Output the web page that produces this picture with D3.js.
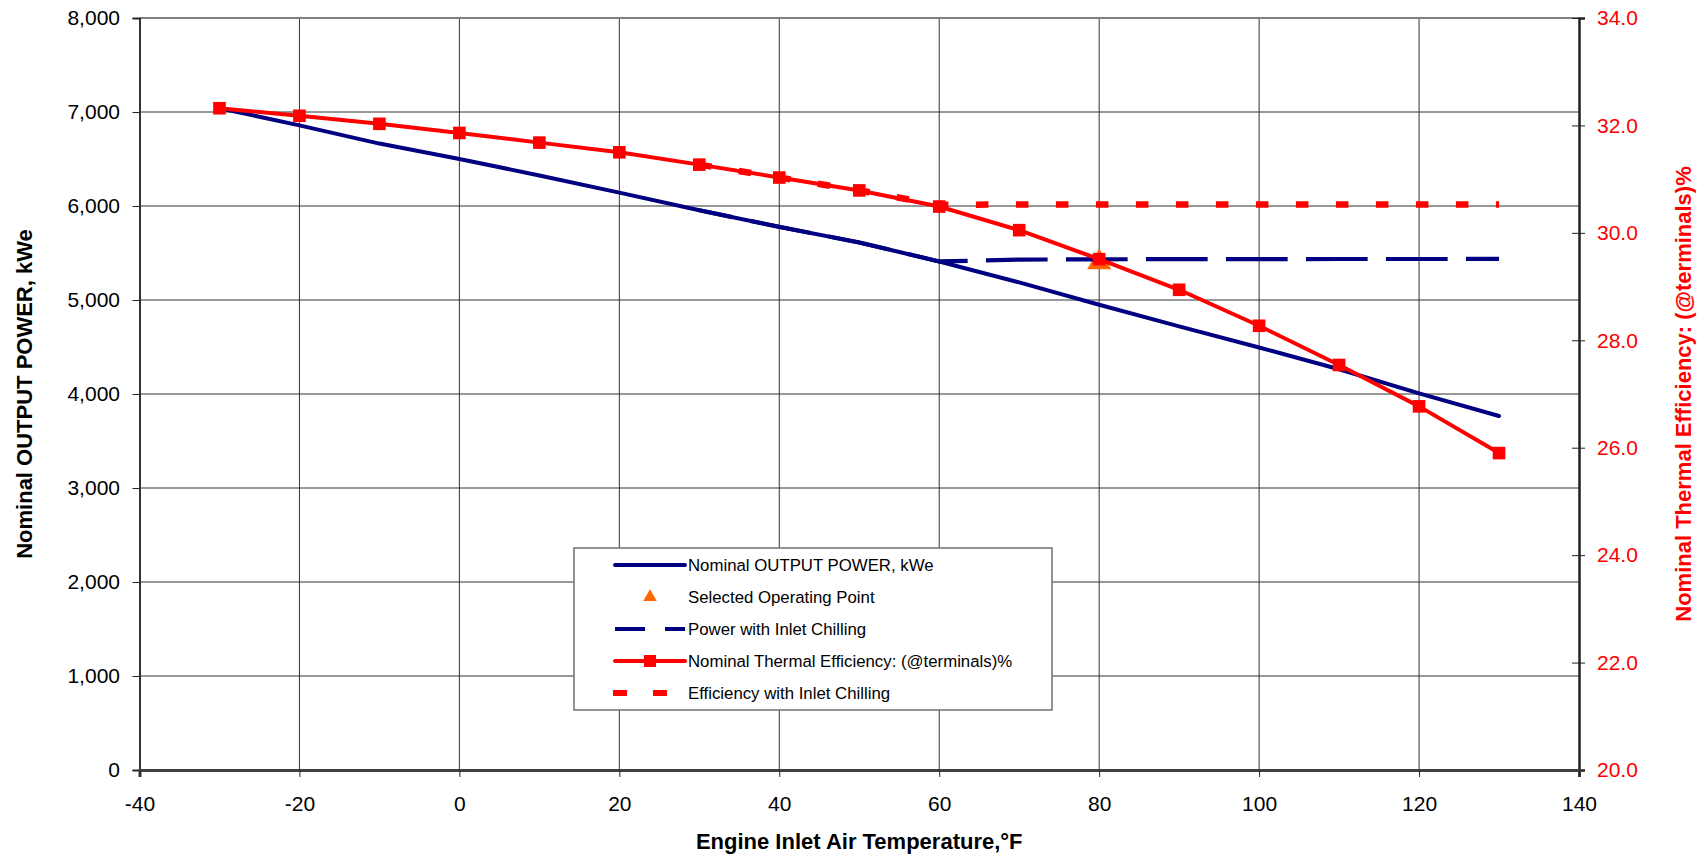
<!DOCTYPE html>
<html>
<head>
<meta charset="utf-8">
<script src="https://cdn.jsdelivr.net/npm/d3@7/dist/d3.min.js"></script>
<style>
  html, body { margin: 0; padding: 0; background: #fff; }
  svg { display: block; font-family: "Liberation Sans", Arial, Helvetica, sans-serif; }
</style>
</head>
<body>
<svg id="chart" width="1705" height="857"></svg>
<script>
// ---- data ----
const temps = [-30, -20, -10, 0, 10, 20, 30, 40, 50, 60, 70, 80, 90, 100, 110, 120, 130];
const powerKwe = [7040, 6858, 6664, 6500, 6325, 6142, 5955, 5778, 5612, 5410, 5187, 4950, 4719, 4495, 4263, 4007, 3766];
const efficiencyPct = [32.32, 32.18, 32.03, 31.86, 31.68, 31.50, 31.27, 31.03, 30.79, 30.49, 30.05, 29.51, 28.94, 28.27, 27.54, 26.77, 25.90];
const chillTemps = [30, 40, 50, 60, 70, 80, 90, 100, 110, 120, 130];
const powerChill = [5955, 5778, 5612, 5410, 5430, 5433, 5435, 5435, 5436, 5436, 5437];
const effChill = [31.27, 31.03, 30.79, 30.52, 30.53, 30.53, 30.53, 30.53, 30.53, 30.53, 30.53];
const selectedTemp = [80];
const selectedPower = [5400];
const xTickValues = [-40, -20, 0, 20, 40, 60, 80, 100, 120, 140];
const yLeftTicks = [0, 1000, 2000, 3000, 4000, 5000, 6000, 7000, 8000];
const yRightTicks = [20, 22, 24, 26, 28, 30, 32, 34];
const legendLabels = [
  "Nominal OUTPUT POWER, kWe",
  "Selected Operating Point",
  "Power with Inlet Chilling",
  "Nominal Thermal Efficiency: (@terminals)%",
  "Efficiency with Inlet Chilling"
];
const xTitle = "Engine Inlet Air Temperature,\u00B0F";
const yLeftTitle = "Nominal OUTPUT POWER, kWe";
const yRightTitle = "Nominal Thermal Efficiency: (@terminals)%";

// ---- layout ----
const P = { left: 139.5, right: 1579, top: 18, bottom: 770 };
const NAVY = "#000080", RED = "#FF0000", ORANGE = "#FF6600";

const svg = d3.select("#chart");
const x = d3.scaleLinear().domain([-40, 140]).range([P.left, P.right]);
const yL = d3.scaleLinear().domain([0, 8000]).range([P.bottom, P.top]);
const yR = d3.scaleLinear().domain([20, 34]).range([P.bottom, P.top]);

// gridlines
const grid = svg.append("g");
grid.selectAll("line.v").data(xTickValues.filter(d => d > -40 && d < 140)).join("line")
  .attr("x1", d => x(d)).attr("x2", d => x(d)).attr("y1", P.top).attr("y2", P.bottom)
  .attr("stroke", "#333").attr("stroke-width", 1);
grid.selectAll("line.h").data(yLeftTicks.filter(d => d > 0 && d < 8000)).join("line")
  .attr("x1", P.left).attr("x2", P.right).attr("y1", d => yL(d)).attr("y2", d => yL(d))
  .attr("stroke", "#333").attr("stroke-width", 1);
// top frame line
svg.append("line").attr("x1", P.left).attr("x2", P.right).attr("y1", P.top).attr("y2", P.top)
  .attr("stroke", "#808080").attr("stroke-width", 2);

// axes
const fmtComma = d3.format(",");
const axL = svg.append("g").attr("transform", `translate(${P.left},0)`)
  .call(d3.axisLeft(yL).tickValues(yLeftTicks).tickFormat(fmtComma).tickSizeOuter(0).tickSize(7).tickPadding(12.5));
const axR = svg.append("g").attr("transform", `translate(${P.right},0)`)
  .call(d3.axisRight(yR).tickValues(yRightTicks).tickFormat(d => d.toFixed(1)).tickSizeOuter(0).tickSize(6).tickPadding(12));
const axB = svg.append("g").attr("transform", `translate(0,${P.bottom})`)
  .call(d3.axisBottom(x).tickValues(xTickValues).tickFormat(d => String(d)).tickSizeOuter(0).tickSize(7).tickPadding(19));

axL.select(".domain").attr("stroke", "#333").attr("stroke-width", 2);
axR.select(".domain").attr("stroke", "#222").attr("stroke-width", 2.5);
axB.select(".domain").attr("stroke", "#404040").attr("stroke-width", 3);
axR.selectAll(".tick line").attr("x1", -7).attr("x2", 6).attr("stroke", "#222");
axL.selectAll(".tick line").attr("stroke", "#222");
axB.selectAll(".tick line").attr("stroke", "#222");
[axL, axR, axB].forEach(a => a.selectAll(".tick text").attr("font-size", 21).attr("font-family", "Liberation Sans, Arial, sans-serif"));
axL.selectAll(".tick text").attr("fill", "#000");
axB.selectAll(".tick text").attr("fill", "#000");
axR.selectAll(".tick text").attr("fill", RED);

// series
const linePower = d3.line().x((d, i) => x(temps[i])).y(d => yL(d));
const linePowerChill = d3.line().x((d, i) => x(chillTemps[i])).y(d => yL(d));
const lineEff = d3.line().x((d, i) => x(temps[i])).y(d => yR(d));
const lineEffChill = d3.line().x((d, i) => x(chillTemps[i])).y(d => yR(d));

svg.append("path").datum(powerKwe).attr("d", linePower)
  .attr("fill", "none").attr("stroke", NAVY).attr("stroke-width", 4)
  .attr("stroke-linejoin", "round").attr("stroke-linecap", "round");

svg.selectAll("path.sel").data(selectedPower).join("path")
  .attr("d", d3.symbol(d3.symbolTriangle).size(250))
  .attr("transform", (d, i) => `translate(${x(selectedTemp[i])},${yL(d)})`)
  .attr("fill", ORANGE);

svg.append("path").datum(powerChill).attr("d", linePowerChill)
  .attr("fill", "none").attr("stroke", NAVY).attr("stroke-width", 4.2)
  .attr("stroke-dasharray", "61.7,18.3").attr("stroke-dashoffset", 27.9);

svg.append("path").datum(efficiencyPct).attr("d", lineEff)
  .attr("fill", "none").attr("stroke", RED).attr("stroke-width", 4)
  .attr("stroke-linejoin", "round").attr("stroke-linecap", "round");
svg.selectAll("rect.sq").data(efficiencyPct).join("rect")
  .attr("x", (d, i) => x(temps[i]) - 6.3).attr("y", d => yR(d) - 6.3)
  .attr("width", 12.6).attr("height", 12.6).attr("fill", RED);

svg.append("path").datum(effChill).attr("d", lineEffChill)
  .attr("fill", "none").attr("stroke", RED).attr("stroke-width", 6.5)
  .attr("stroke-dasharray", "12.5,27.5");

// axis titles
svg.append("text").attr("x", (P.left + P.right) / 2).attr("y", 849)
  .attr("text-anchor", "middle").attr("font-size", 22).attr("font-weight", "bold")
  .text(xTitle);
svg.append("text").attr("transform", `translate(32,${(P.top + P.bottom) / 2}) rotate(-90)`)
  .attr("text-anchor", "middle").attr("font-size", 22).attr("font-weight", "bold")
  .text(yLeftTitle);
svg.append("text").attr("transform", `translate(1691,${(P.top + P.bottom) / 2}) rotate(-90)`)
  .attr("text-anchor", "middle").attr("font-size", 22).attr("font-weight", "bold").attr("fill", RED)
  .text(yRightTitle);

// legend
const lg = svg.append("g");
lg.append("rect").attr("x", 574).attr("y", 548).attr("width", 478).attr("height", 162)
  .attr("fill", "#fff").attr("stroke", "#707070").attr("stroke-width", 1.5);
const rowY = i => 565 + i * 32;
const sx0 = 615, sx1 = 685, sxm = 650;
legendLabels.forEach((lab, i) => {
  const yy = rowY(i);
  if (i === 0) {
    lg.append("line").attr("x1", sx0).attr("x2", sx1).attr("y1", yy).attr("y2", yy)
      .attr("stroke", NAVY).attr("stroke-width", 4).attr("stroke-linecap", "round");
  } else if (i === 1) {
    lg.append("path").attr("d", d3.symbol(d3.symbolTriangle).size(80))
      .attr("transform", `translate(${sxm},${yy})`).attr("fill", ORANGE);
  } else if (i === 2) {
    lg.append("line").attr("x1", sx0).attr("x2", sx1).attr("y1", yy).attr("y2", yy)
      .attr("stroke", NAVY).attr("stroke-width", 4).attr("stroke-dasharray", "30,20");
  } else if (i === 3) {
    lg.append("line").attr("x1", sx0).attr("x2", sx1).attr("y1", yy).attr("y2", yy)
      .attr("stroke", RED).attr("stroke-width", 4).attr("stroke-linecap", "round");
    lg.append("rect").attr("x", sxm - 6).attr("y", yy - 6).attr("width", 12).attr("height", 12).attr("fill", RED);
  } else {
    lg.append("line").attr("x1", sx0 - 2).attr("x2", sx1).attr("y1", yy).attr("y2", yy)
      .attr("stroke", RED).attr("stroke-width", 6).attr("stroke-dasharray", "14,26");
  }
  lg.append("text").attr("x", 688).attr("y", yy).attr("dy", "0.36em")
    .attr("font-size", 16.8).attr("fill", "#000").text(lab);
});
</script>
</body>
</html>
